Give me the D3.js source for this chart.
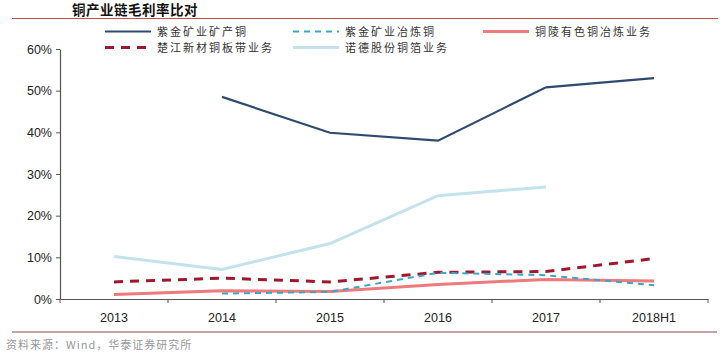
<!DOCTYPE html>
<html><head><meta charset="utf-8">
<script src="https://cdn.jsdelivr.net/npm/d3@7"></script>
<style>body{margin:0;background:#fff}svg{display:block}</style>
</head><body>
<svg id="c" width="728" height="353"></svg>
<script>
const categories = ["2013","2014","2015","2016","2017","2018H1"];
const yTicks = [0,10,20,30,40,50,60];
const zijinMine = [null,48.5,39.9,38.0,50.8,53.0];
const zijinSmelt = [null,1.3,1.7,6.3,5.7,3.3];
const tongling = [1.1,2.0,1.8,3.5,4.7,4.3];
const chujiang = [4.1,5.0,4.1,6.4,6.6,9.7];
const nuode = [10.2,7.1,13.3,24.8,26.9,null];
const seriesNames = ["紫金矿业矿产铜","紫金矿业冶炼铜","铜陵有色铜冶炼业务","楚江新材铜板带业务","诺德股份铜箔业务"];

(function(){
const series = [
  {name:seriesNames[0], values:zijinMine, color:"#2e4a6c", width:2.2, dash:null},
  {name:seriesNames[1], values:zijinSmelt, color:"#3ba7c6", width:2, dash:"6,5"},
  {name:seriesNames[2], values:tongling, color:"#ef7a7c", width:3, dash:null},
  {name:seriesNames[3], values:chujiang, color:"#a0182b", width:3, dash:"9,7"},
  {name:seriesNames[4], values:nuode, color:"#c3e2ec", width:3, dash:null}
];

const svg = d3.select("#c");
const mL=60, mR=708, mT=49, mB=299;
const x = d3.scaleBand().domain(categories).range([mL,mR]);
const y = d3.scaleLinear().domain([0,60]).range([mB,mT]);

// title
svg.append("text").attr("x",72).attr("y",15).attr("font-family","Noto Sans CJK SC").attr("font-weight","bold")
  .attr("font-size",13.5).attr("letter-spacing",0.5).attr("fill","#111").text("铜产业链毛利率比对");
svg.append("line").attr("x1",12).attr("x2",718).attr("y1",18.5).attr("y2",18.5).attr("stroke","#c0504d").attr("stroke-width",1.2);

// axes
const ya = svg.append("g").attr("transform",`translate(${mL},0)`)
  .call(d3.axisLeft(y).tickValues(yTicks).tickFormat(d=>d+"%").tickSize(4).tickSizeOuter(0));
const xa = svg.append("g").attr("transform",`translate(0,${mB})`)
  .call(d3.axisBottom(x).tickSize(4).tickSizeOuter(0));
xa.selectAll(".tick line").remove();
const bounds = categories.map(c=>x(c)).concat([mR]);
xa.selectAll("line.b").data(bounds).enter().append("line").attr("class","b")
  .attr("x1",d=>d).attr("x2",d=>d).attr("y1",0).attr("y2",4).attr("stroke","#555");
[ya,xa].forEach(g=>{
  g.select(".domain").attr("stroke","#555").attr("stroke-width",1.2);
  g.selectAll(".tick line").attr("stroke","#555");
  g.selectAll("text").attr("font-family","Liberation Sans, Arial").attr("font-size",12.5).attr("fill","#222");
});
ya.selectAll("text").attr("x",-8);
xa.selectAll("text").attr("dy","1.25em");

// lines
const line = d3.line().defined(d=>d!=null).x((d,i)=>x(categories[i])+x.bandwidth()/2).y(d=>y(d));
[4,3,2,1,0].forEach(k=>{
  const s = series[k];
  svg.append("path").datum(s.values).attr("d",line).attr("fill","none")
    .attr("stroke",s.color).attr("stroke-width",s.width).attr("stroke-dasharray",s.dash);
});

// legend
const legPos = [[105,31.5],[293,31.5],[483,31.5],[105,47.5],[293,47.5]];
series.forEach((s,i)=>{
  const [lx,ly] = legPos[i];
  svg.append("line").attr("x1",lx).attr("x2",lx+46).attr("y1",ly).attr("y2",ly)
    .attr("stroke",s.color).attr("stroke-width",s.width).attr("stroke-dasharray",s.dash);
  svg.append("text").attr("x",lx+52).attr("y",ly+4).attr("font-family","Noto Sans CJK SC")
    .attr("font-size",11).attr("letter-spacing",2).attr("fill","#333").text(s.name);
});

// bottom
svg.append("line").attr("x1",12).attr("x2",717).attr("y1",332).attr("y2",332).attr("stroke","#c9a3a3").attr("stroke-width",2);
svg.append("text").attr("x",6).attr("y",349).attr("font-family","Noto Sans CJK SC").attr("font-size",11)
  .attr("letter-spacing",1).attr("fill","#999").text("资料来源：Wind，华泰证券研究所");
})();
</script>
</body></html>
